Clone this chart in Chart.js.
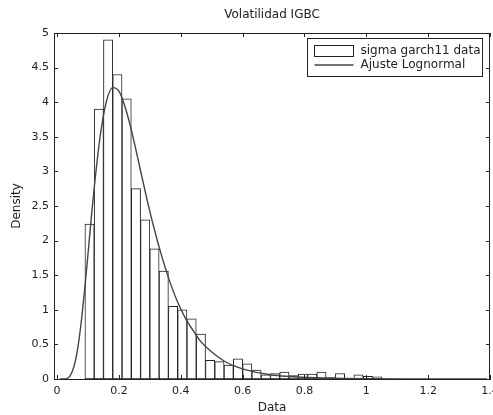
<!DOCTYPE html>
<html>
<head>
<meta charset="utf-8">
<script src="https://cdn.jsdelivr.net/npm/chart.js@4.4.0/dist/chart.umd.min.js"></script>
<style>
  html, body { margin: 0; padding: 0; background: #fff; }
  #wrap { width: 493px; height: 415px; position: relative; }
</style>
</head>
<body>
<div id="wrap"><canvas id="volChart"></canvas></div>
<script>
// Histograma: centro de cada bin y densidad
const binCenters = [0.105, 0.135, 0.165, 0.195, 0.225, 0.255, 0.285, 0.315, 0.345, 0.375, 0.405,
  0.435, 0.465, 0.495, 0.525, 0.555, 0.585, 0.615, 0.645, 0.675, 0.705, 0.735, 0.765, 0.795,
  0.825, 0.855, 0.885, 0.915, 0.945, 0.975, 1.005, 1.035];
const binDensity = [2.24, 3.9, 4.9, 4.4, 4.05, 2.75, 2.3, 1.88, 1.56, 1.05, 1.0,
  0.87, 0.65, 0.27, 0.25, 0.2, 0.29, 0.22, 0.13, 0.06, 0.08, 0.1, 0.05, 0.07,
  0.07, 0.1, 0.02, 0.08, 0, 0.06, 0.04, 0.03];

// Curva del ajuste lognormal
const fitX = [0.01, 0.03, 0.04, 0.05, 0.06, 0.07, 0.08, 0.09, 0.10, 0.11, 0.12, 0.14, 0.16, 0.18,
  0.20, 0.22, 0.24, 0.26, 0.29, 0.31, 0.34, 0.365, 0.39, 0.415, 0.44, 0.465, 0.49, 0.54, 0.59,
  0.64, 0.69, 0.74, 0.79, 0.89, 0.99, 1.19, 1.39];
const fitY = [0, 0.006, 0.035, 0.12, 0.28, 0.54, 0.9, 1.33, 1.81, 2.3, 2.76, 3.53, 4.02, 4.21,
  4.16, 3.93, 3.6, 3.21, 2.61, 2.24, 1.75, 1.4, 1.11, 0.88, 0.7, 0.54, 0.43, 0.26, 0.16,
  0.1, 0.062, 0.039, 0.025, 0.01, 0.004, 0.001, 0];

const xTickValues = [0, 0.2, 0.4, 0.6, 0.8, 1, 1.2, 1.4];
const yTickValues = [0, 0.5, 1, 1.5, 2, 2.5, 3, 3.5, 4, 4.5, 5];

const titleText = 'Volatilidad IGBC';
const legendLabels = ['sigma garch11 data', 'Ajuste Lognormal'];

const FONT = 'DejaVu Sans';
const INK = '#222';
const CURVE = '#444';

// Marco completo y marcas hacia dentro (estilo MATLAB)
const boxTicksPlugin = {
  id: 'boxTicks',
  afterDraw(chart) {
    const { ctx, chartArea: a, scales } = chart;
    ctx.save();
    ctx.strokeStyle = INK;
    ctx.lineWidth = 1;
    ctx.beginPath();
    ctx.moveTo(a.left, a.top + 0.5);
    ctx.lineTo(a.right, a.top + 0.5);
    ctx.moveTo(a.right - 0.5, a.top);
    ctx.lineTo(a.right - 0.5, a.bottom);
    const len = 4;
    xTickValues.forEach(v => {
      const px = Math.round(scales.x.getPixelForValue(v)) + 0.5;
      ctx.moveTo(px, a.bottom); ctx.lineTo(px, a.bottom - len);
      ctx.moveTo(px, a.top); ctx.lineTo(px, a.top + len);
    });
    yTickValues.forEach(v => {
      const py = Math.round(scales.y.getPixelForValue(v)) + 0.5;
      ctx.moveTo(a.left, py); ctx.lineTo(a.left + len, py);
      ctx.moveTo(a.right, py); ctx.lineTo(a.right - len, py);
    });
    ctx.stroke();

    // título centrado sobre los ejes
    ctx.fillStyle = INK;
    ctx.font = '12px "' + FONT + '"';
    ctx.textAlign = 'center';
    ctx.textBaseline = 'middle';
    ctx.fillText(titleText, (a.left + a.right) / 2, 15);

    // leyenda dentro del área, arriba a la derecha
    ctx.textAlign = 'left';
    const tw = Math.max(...legendLabels.map(t => ctx.measureText(t).width));
    const iconW = 39;
    const w = 7 + iconW + 7 + tw + 2;
    const h = 38;
    const x0 = Math.round(a.right - 8 - w) + 0.5;
    const y0 = Math.round(a.top + 5) + 0.5;
    ctx.fillStyle = '#fff';
    ctx.fillRect(x0, y0, w, h);
    ctx.strokeStyle = INK;
    ctx.strokeRect(x0, y0, w, h);
    ctx.strokeRect(x0 + 7, y0 + 7, iconW, 11);
    ctx.beginPath();
    ctx.strokeStyle = CURVE;
    ctx.lineWidth = 1.3;
    ctx.moveTo(x0 + 7, y0 + 26.5);
    ctx.lineTo(x0 + 7 + iconW, y0 + 26.5);
    ctx.stroke();
    ctx.fillStyle = INK;
    ctx.fillText(legendLabels[0], x0 + 7 + iconW + 7, y0 + 12.5);
    ctx.fillText(legendLabels[1], x0 + 7 + iconW + 7, y0 + 26.5);
    ctx.restore();
  }
};

const fmt = v => String(+Number(v).toFixed(2));

new Chart(document.getElementById('volChart'), {
  type: 'bar',
  data: {
    datasets: [
      {
        type: 'line',
        label: legendLabels[1],
        data: fitX.map((x, i) => ({ x: x, y: fitY[i] })),
        borderColor: CURVE,
        borderWidth: 1.4,
        pointRadius: 0,
        fill: false,
        cubicInterpolationMode: 'monotone',
        order: 0
      },
      {
        type: 'bar',
        label: legendLabels[0],
        data: binCenters.map((x, i) => ({ x: x, y: binDensity[i] })),
        backgroundColor: '#fff',
        borderColor: INK,
        borderWidth: 1,
        borderSkipped: false,
        barPercentage: 1,
        categoryPercentage: 1,
        order: 1
      }
    ]
  },
  options: {
    responsive: true,
    maintainAspectRatio: false,
    animation: false,
    layout: { padding: { top: 33, right: 3, left: 0, bottom: 0 } },
    plugins: {
      legend: { display: false },
      tooltip: { enabled: false },
      title: { display: false }
    },
    scales: {
      x: {
        type: 'linear',
        min: -0.01,
        max: 1.4,
        offset: false,
        grid: { display: false, drawTicks: false },
        border: { display: true, color: INK, width: 1 },
        ticks: {
          color: INK,
          font: { family: FONT, size: 11 },
          padding: 6,
          maxRotation: 0,
          autoSkip: false,
          callback: fmt
        },
        title: {
          display: true,
          text: 'Data',
          color: INK,
          font: { family: FONT, size: 12 },
          padding: { top: 0, bottom: 0 }
        },
        afterBuildTicks: s => { s.ticks = xTickValues.map(v => ({ value: v })); },
        afterFit: s => { s.height = 36; s.paddingLeft = 0; s.paddingRight = 0; }
      },
      y: {
        min: 0,
        max: 5,
        grid: { display: false, drawTicks: false },
        border: { display: true, color: INK, width: 1 },
        ticks: {
          color: INK,
          font: { family: FONT, size: 11 },
          padding: 5,
          callback: fmt
        },
        title: {
          display: true,
          text: 'Density',
          color: INK,
          font: { family: FONT, size: 12 },
          padding: { top: 10, bottom: 0 }
        },
        afterBuildTicks: s => { s.ticks = yTickValues.map(v => ({ value: v })); },
        afterFit: s => { s.width = 54; }
      }
    }
  },
  plugins: [boxTicksPlugin]
});
</script>
</body>
</html>
